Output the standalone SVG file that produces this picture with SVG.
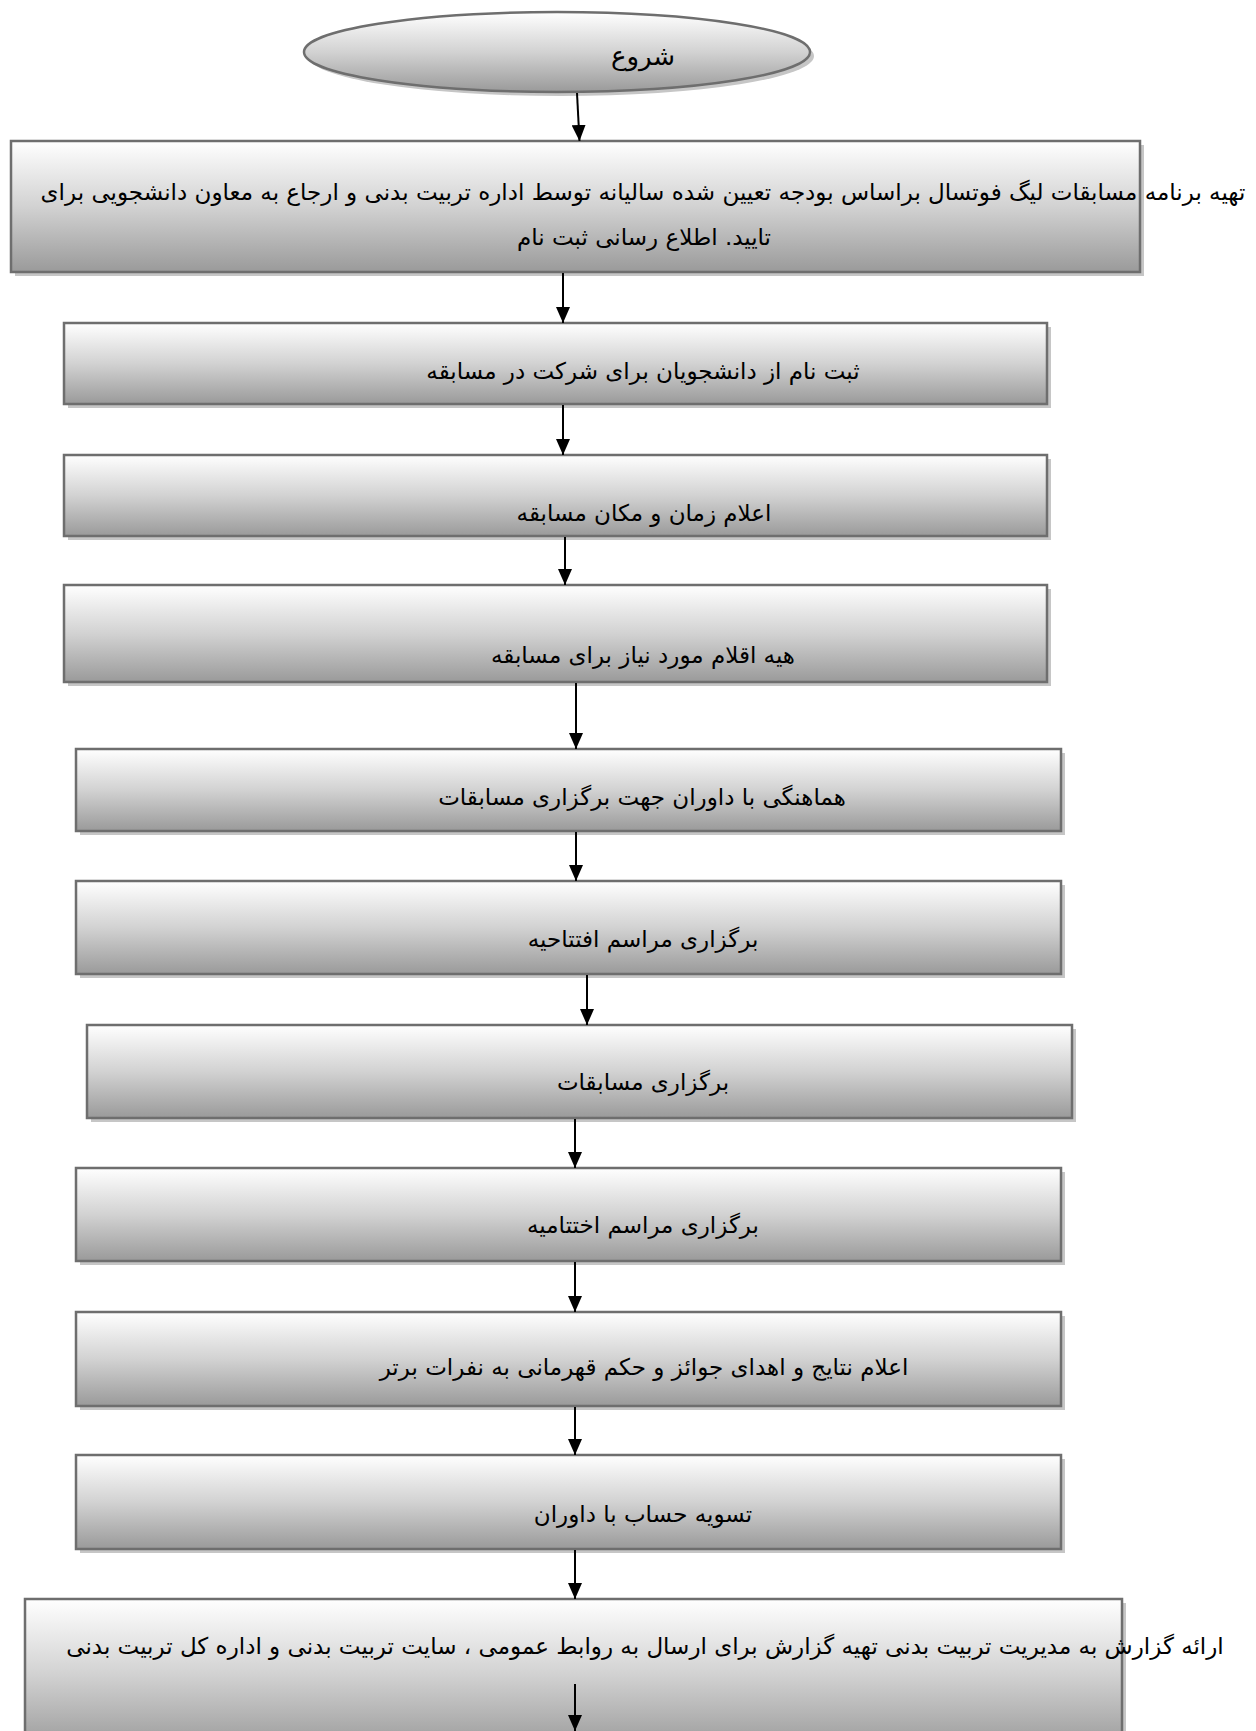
<svg xmlns="http://www.w3.org/2000/svg" width="1256" height="1731" viewBox="0 0 1256 1731">
<defs>
<linearGradient id="g" x1="0" y1="0" x2="0" y2="1">
<stop offset="0" stop-color="#ffffff"/>
<stop offset="0.5" stop-color="#d2d2d2"/>
<stop offset="1" stop-color="#9a9a9a"/>
</linearGradient>
<marker id="ah" markerUnits="userSpaceOnUse" viewBox="0 0 16 14" refX="16" refY="7" markerWidth="16" markerHeight="14" orient="auto">
<path d="M0,0 L16,7 L0,14 z" fill="#000"/>
</marker>
<style>
.sh{fill:#c6c6c6}
.bx{fill:url(#g);stroke:#6e6e6e;stroke-width:2.5}
.t{font-family:"DejaVu Sans",sans-serif;font-size:23px;fill:#000;text-anchor:middle}
.big{font-size:26px}
.c{stroke:#000;stroke-width:2;fill:none;marker-end:url(#ah)}
</style>
</defs>
<rect width="1256" height="1731" fill="#fff"/>

<g id="start">
<ellipse class="sh" cx="561" cy="56" rx="253" ry="40"/>
<ellipse class="bx" cx="557" cy="52" rx="253" ry="40"/>
<text class="t big" x="643" y="65" direction="rtl">شروع</text>
</g>

<g id="n1">
<rect class="sh" x="15" y="145" width="1129" height="131"/>
<rect class="bx" x="11" y="141" width="1129" height="131"/>
<text class="t" x="643" y="200" direction="rtl">تهیه برنامه مسابقات لیگ فوتسال براساس بودجه تعیین شده سالیانه توسط اداره تربیت بدنی و ارجاع به معاون دانشجویی برای</text>
<text class="t" x="644" y="245" direction="rtl">تایید. اطلاع رسانی ثبت نام</text>
</g>

<g id="n2">
<rect class="sh" x="68" y="327" width="983" height="81"/>
<rect class="bx" x="64" y="323" width="983" height="81"/>
<text class="t" x="643" y="379" direction="rtl">ثبت نام از دانشجویان برای شرکت در مسابقه</text>
</g>

<g id="n3">
<rect class="sh" x="68" y="459" width="983" height="81"/>
<rect class="bx" x="64" y="455" width="983" height="81"/>
<text class="t" x="644" y="521" direction="rtl">اعلام زمان و مکان مسابقه</text>
</g>

<g id="n4">
<rect class="sh" x="68" y="589" width="983" height="97"/>
<rect class="bx" x="64" y="585" width="983" height="97"/>
<text class="t" x="643" y="663" direction="rtl">هیه اقلام مورد نیاز برای مسابقه</text>
</g>

<g id="n5">
<rect class="sh" x="80" y="753" width="985" height="82"/>
<rect class="bx" x="76" y="749" width="985" height="82"/>
<text class="t" x="642" y="805" direction="rtl">هماهنگی با داوران جهت برگزاری مسابقات</text>
</g>

<g id="n6">
<rect class="sh" x="80" y="885" width="985" height="93"/>
<rect class="bx" x="76" y="881" width="985" height="93"/>
<text class="t" x="643" y="947" direction="rtl">برگزاری مراسم افتتاحیه</text>
</g>

<g id="n7">
<rect class="sh" x="91" y="1029" width="985" height="93"/>
<rect class="bx" x="87" y="1025" width="985" height="93"/>
<text class="t" x="643" y="1090" direction="rtl">برگزاری مسابقات</text>
</g>

<g id="n8">
<rect class="sh" x="80" y="1172" width="985" height="93"/>
<rect class="bx" x="76" y="1168" width="985" height="93"/>
<text class="t" x="643" y="1233" direction="rtl">برگزاری مراسم اختتامیه</text>
</g>

<g id="n9">
<rect class="sh" x="80" y="1316" width="985" height="94"/>
<rect class="bx" x="76" y="1312" width="985" height="94"/>
<text class="t" x="644" y="1375" direction="rtl">اعلام نتایج و اهدای جوائز و حکم قهرمانی به نفرات برتر</text>
</g>

<g id="n10">
<rect class="sh" x="80" y="1459" width="985" height="94"/>
<rect class="bx" x="76" y="1455" width="985" height="94"/>
<text class="t" x="643" y="1522" direction="rtl">تسویه حساب با داوران</text>
</g>

<g id="n11">
<rect class="sh" x="29" y="1603" width="1097" height="150"/>
<rect class="bx" x="25" y="1599" width="1097" height="150"/>
<text class="t" x="645" y="1654" direction="rtl">ارائه گزارش به مدیریت تربیت بدنی تهیه گزارش برای ارسال به روابط عمومی ، سایت تربیت بدنی و اداره کل تربیت بدنی</text>
</g>

<g id="connectors">
<line class="c" x1="577" y1="93" x2="579.5" y2="141"/>
<line class="c" x1="563" y1="273" x2="563" y2="323"/>
<line class="c" x1="563" y1="405" x2="563" y2="455"/>
<line class="c" x1="565" y1="537" x2="565" y2="585"/>
<line class="c" x1="576" y1="683" x2="576" y2="749"/>
<line class="c" x1="576" y1="832" x2="576" y2="881"/>
<line class="c" x1="587" y1="975" x2="587" y2="1025"/>
<line class="c" x1="575" y1="1119" x2="575" y2="1168"/>
<line class="c" x1="575" y1="1262" x2="575" y2="1312"/>
<line class="c" x1="575" y1="1407" x2="575" y2="1455"/>
<line class="c" x1="575" y1="1550" x2="575" y2="1599"/>
<line class="c" x1="575" y1="1684" x2="575" y2="1731"/>
</g>
</svg>
